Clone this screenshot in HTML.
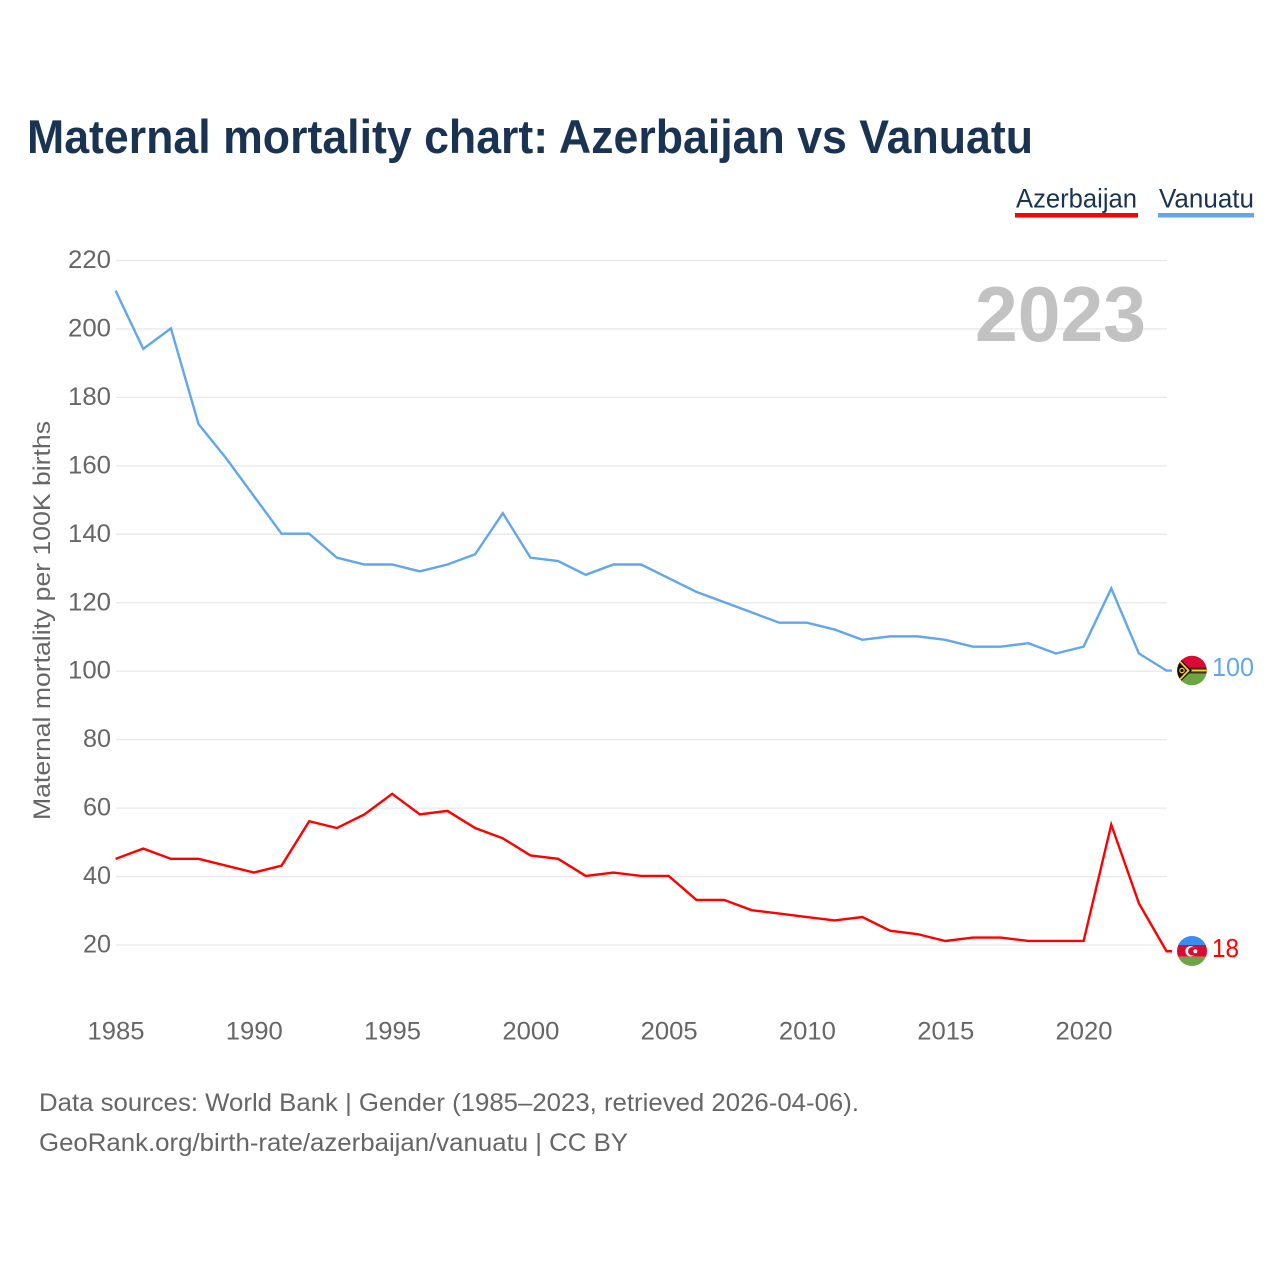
<!DOCTYPE html>
<html lang="en">
<head>
<meta charset="utf-8">
<title>Maternal mortality chart: Azerbaijan vs Vanuatu</title>
<style>
html,body{margin:0;padding:0;background:#fff;width:1280px;height:1280px;overflow:hidden}
svg{display:block}
text{font-family:"Liberation Sans",sans-serif}
</style>
</head>
<body>
<svg id="chart" xmlns="http://www.w3.org/2000/svg" width="1280" height="1280" viewBox="0 0 1280 1280">
  <defs>
    <clipPath id="flag-clip-vu"><circle cx="1192" cy="670.5" r="14.8"/></clipPath>
    <clipPath id="flag-clip-az"><circle cx="1192" cy="951" r="15"/></clipPath>
  </defs>
  <text x="27" y="153" font-size="47" font-weight="700" fill="#1a3352" textLength="1006" lengthAdjust="spacingAndGlyphs">Maternal mortality chart: Azerbaijan vs Vanuatu</text>

  <g>
    <g>
      <text x="1016" y="207.5" font-size="27" fill="#1a3352" textLength="121" lengthAdjust="spacingAndGlyphs">Azerbaijan</text>
      <rect x="1015" y="213" width="123" height="4.5" fill="#ff0000"/>
    </g>
    <g>
      <text x="1159" y="207.5" font-size="27" fill="#1a3352" textLength="95" lengthAdjust="spacingAndGlyphs">Vanuatu</text>
      <rect x="1158" y="213" width="96" height="4.5" fill="#62a6ec"/>
    </g>
  </g>

  <g id="grid"></g>
  <g id="yticks"></g>
  <g id="xticks"></g>

  <text x="975" y="341" font-size="78" font-weight="700" fill="#c2c2c2" textLength="171" lengthAdjust="spacingAndGlyphs">2023</text>

  <text transform="translate(50,820) rotate(-90)" x="0" y="0" font-size="24" fill="#666666" textLength="399" lengthAdjust="spacingAndGlyphs">Maternal mortality per 100K births</text>

  <g id="series"></g>

  <g clip-path="url(#flag-clip-vu)">
    <rect x="1177" y="655" width="30" height="15.5" fill="#dc0a32"/>
    <rect x="1177" y="670.5" width="30" height="16" fill="#6da544"/>
    <rect x="1177" y="667.5" width="30" height="6" fill="#3a3320"/>
    <rect x="1187" y="669.6" width="20" height="1.8" fill="#ffd21f"/>
    <polygon points="1177,656 1192,670.5 1177,685" fill="#111111"/>
    <polyline points="1177,658.5 1188.5,670.5 1177,682.5" fill="none" stroke="#ffd21f" stroke-width="1.8"/>
    <circle cx="1182" cy="670.5" r="2.2" fill="none" stroke="#ffd21f" stroke-width="1.1"/>
  </g>
  <g clip-path="url(#flag-clip-az)">
    <rect x="1177" y="935" width="30" height="10" fill="#3a8df0"/>
    <rect x="1177" y="945" width="30" height="11.7" fill="#dc0a32"/>
    <rect x="1177" y="956.7" width="30" height="11" fill="#6da544"/>
    <circle cx="1190.5" cy="951.3" r="5.2" fill="#ffffff"/>
    <circle cx="1192.2" cy="951.3" r="4.2" fill="#dc0a32"/>
    <circle cx="1195.3" cy="951.3" r="2" fill="#ffffff"/>
  </g>

  <text id="end-vu" x="1212" y="676" font-size="26" fill="#62a6ec" textLength="42" lengthAdjust="spacingAndGlyphs">100</text>
  <text id="end-az" x="1212" y="957" font-size="26" fill="#ff0000" textLength="27" lengthAdjust="spacingAndGlyphs">18</text>

  <text x="39" y="1111" font-size="25" fill="#666666" textLength="820" lengthAdjust="spacingAndGlyphs">Data sources: World Bank | Gender (1985–2023, retrieved 2026-04-06).</text>
  <text x="39" y="1151" font-size="25" fill="#666666" textLength="589" lengthAdjust="spacingAndGlyphs">GeoRank.org/birth-rate/azerbaijan/vanuatu | CC BY</text>
</svg>
<script>
const years = [1985,1986,1987,1988,1989,1990,1991,1992,1993,1994,1995,1996,1997,1998,1999,2000,2001,2002,2003,2004,2005,2006,2007,2008,2009,2010,2011,2012,2013,2014,2015,2016,2017,2018,2019,2020,2021,2022,2023];
const vanuatuValues = [211,194,200,172,162,151,140,140,133,131,131,129,131,134,146,133,132,128,131,131,127,123,120,117,114,114,112,109,110,110,109,107,107,108,105,107,124,105,100];
const azerbaijanValues = [45,48,45,45,43,41,43,56,54,58,64,58,59,54,51,46,45,40,41,40,40,33,33,30,29,28,27,28,24,23,21,22,22,21,21,21,55,32,18];
const yTickValues = [20,40,60,80,100,120,140,160,180,200,220];
const xTickValues = [1985,1990,1995,2000,2005,2010,2015,2020];

const SVG_NS = 'http://www.w3.org/2000/svg';
function xScale(year) { return 116 + (year - 1985) * (1084 - 116) / 35; }
function yScale(value) { return 945 - (value - 20) * (945 - 260.5) / 200; }
function make(tag, parent) {
  const el = document.createElementNS(SVG_NS, tag);
  parent.appendChild(el);
  return el;
}

const gridGroup = document.getElementById('grid');
const yTickGroup = document.getElementById('yticks');
const xTickGroup = document.getElementById('xticks');
const seriesGroup = document.getElementById('series');

yTickValues.forEach(function (v) {
  const line = make('line', gridGroup);
  
  
  line.setAttribute('x1', 116);
  line.setAttribute('x2', 1167);
  line.setAttribute('y1', yScale(v));
  line.setAttribute('y2', yScale(v));
  line.setAttribute('stroke', '#e9e9e9');
  line.setAttribute('stroke-width', '1.3');

  const label = make('text', yTickGroup);
  
  
  label.setAttribute('x', 111);
  label.setAttribute('y', yScale(v) + 7.5);
  label.setAttribute('text-anchor', 'end');
  label.setAttribute('font-size', '25');
  label.setAttribute('fill', '#666666');
  label.setAttribute('textLength', String(v).length === 3 ? 43 : 28);
  label.setAttribute('lengthAdjust', 'spacingAndGlyphs');
  label.textContent = v;
});

xTickValues.forEach(function (y) {
  const label = make('text', xTickGroup);
  
  
  label.setAttribute('x', xScale(y));
  label.setAttribute('y', 1039.5);
  label.setAttribute('text-anchor', 'middle');
  label.setAttribute('font-size', '25');
  label.setAttribute('fill', '#666666');
  label.setAttribute('textLength', 57);
  label.setAttribute('lengthAdjust', 'spacingAndGlyphs');
  label.textContent = y;
});

function drawSeries(values, color, name) {
  const pts = values.map(function (v, i) {
    return (xScale(years[i]) - 0.4).toFixed(2) + ',' + (yScale(v) - 0.6).toFixed(2);
  });
  const last = values[values.length - 1];
  pts.push((xScale(years[years.length - 1]) + 5).toFixed(2) + ',' + (yScale(last) - 0.6).toFixed(2));
  const line = make('polyline', seriesGroup);
  
  
  line.setAttribute('points', pts.join(' '));
  line.setAttribute('fill', 'none');
  line.setAttribute('stroke', color);
  line.setAttribute('stroke-width', '2.4');
  line.setAttribute('stroke-linejoin', 'miter');
}
drawSeries(vanuatuValues, '#62a6ec', 'line-vanuatu');
drawSeries(azerbaijanValues, '#ff0000', 'line-azerbaijan');
document.getElementById('end-vu').textContent = vanuatuValues[vanuatuValues.length - 1];
document.getElementById('end-az').textContent = azerbaijanValues[azerbaijanValues.length - 1];
</script>
</body>
</html>
